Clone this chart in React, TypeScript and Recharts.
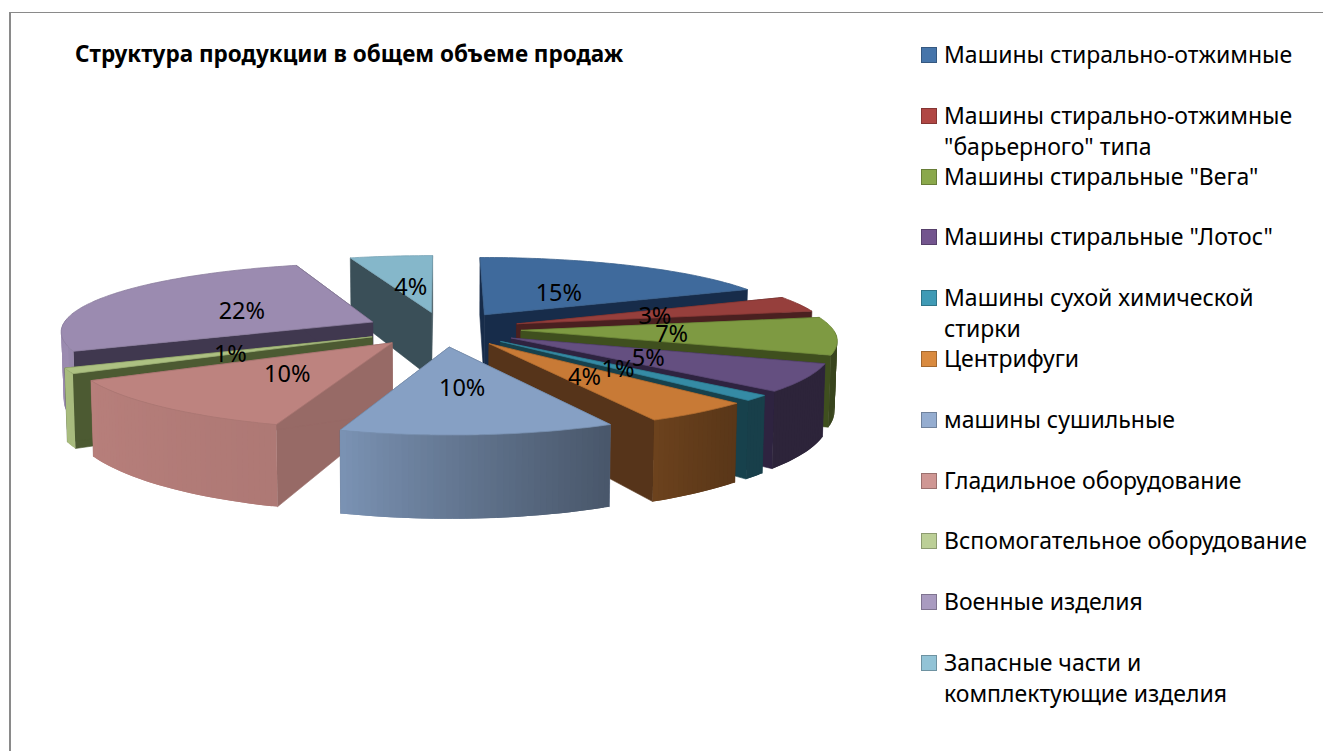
import { Legend, Pie, PieChart } from "recharts";

const names = [
  "Машины стирально-отжимные",
  'Машины стирально-отжимные\n"барьерного" типа',
  'Машины стиральные "Вега"',
  'Машины стиральные "Лотос"',
  "Машины сухой химической\nстирки",
  "Центрифуги",
  "машины сушильные",
  "Гладильное оборудование",
  "Вспомогательное оборудование",
  "Военные изделия",
  "Запасные части и\nкомплектующие изделия",
];
const values = [15, 3, 7, 5, 1, 4, 10, 10, 1, 22, 4];
const topColors = ["#3f6a9c", "#963f3c", "#7e9a42", "#644f80", "#358ba5", "#c87a36", "#86a0c4", "#bd837f", "#adc182", "#9b8bb0", "#85b7ca"];
const wallColors = ["#172c4a", "#4a2020", "#3f4f1e", "#2e2340", "#17414c", "#56341a", "#5b6c87", "#976a66", "#4c5a32", "#40384f", "#3a4f58"];
const legendColors = ["#4675aa", "#b04744", "#8aa84b", "#73558e", "#3f9ab5", "#d98a3f", "#95add0", "#cf9794", "#bccf97", "#a99bc0", "#92c3d6"];
// back to front, so nearer slices cover farther ones
const paintOrder = [10, 9, 0, 1, 8, 2, 3, 7, 4, 5, 6];

const data = names.map((name, i) => ({ name, value: values[i], fill: topColors[i], index: i }));

const FONT = '"Noto Sans", sans-serif';
const FLATTEN = 0.2228;
const PERSPECTIVE_X = 0.12;
const PERSPECTIVE_Y = 0.145;
const EXPLODE = 0.25;

function project(cx: number, cy: number, r: number, x: number, y: number) {
  const fx = 1 / (1 - PERSPECTIVE_X * y);
  const fy = 1 / (1 - PERSPECTIVE_Y * y);
  return [cx + r * x * fx, cy + r * FLATTEN * y * fy];
}

function drop(cx: number, p: number[]) {
  return [cx + (p[0] - cx) * 0.993, p[1] + 0.147 * (p[1] + 135)];
}

function toPath(points: number[][]) {
  return "M" + points.map((p) => `${p[0].toFixed(1)},${p[1].toFixed(1)}`).join("L") + "Z";
}

function shade(hex: string, k: number) {
  const n = parseInt(hex.slice(1), 16);
  const c = [(n >> 16) & 255, (n >> 8) & 255, n & 255].map((v) => Math.round(v * k));
  return `rgb(${c[0]},${c[1]},${c[2]})`;
}

function wallBrightness(theta: number) {
  const t = Math.min(1, Math.max(0, (theta - 136) / 62));
  const rest = Math.max(0, (theta - 198) / 72);
  return 0.45 + 0.47 * Math.pow(t, 1.3) + 0.08 * rest;
}

function makeSlice(only: number) {
  return function Slice(props: any) {
    const { cx, cy, outerRadius, startAngle, endAngle, midAngle, payload } = props;
    const idx = payload?.index;
    if (idx !== only) return <g />;
    const a0 = 90 - startAngle;
    const a1 = 90 - endAngle;
    const mid = ((90 - midAngle) * Math.PI) / 180;
    const ax = EXPLODE * Math.sin(mid);
    const ay = -EXPLODE * Math.cos(mid);
    const pt = (x: number, y: number) => project(cx, cy, outerRadius, x, y);
    const apex = pt(ax, ay);
    const arc: { theta: number; p: number[] }[] = [];
    const steps = Math.max(2, Math.ceil(a1 - a0));
    for (let s = 0; s <= steps; s++) {
      const theta = a0 + ((a1 - a0) * s) / steps;
      const rad = (theta * Math.PI) / 180;
      arc.push({ theta, p: pt(ax + Math.sin(rad), ay - Math.cos(rad)) });
    }
    const first = arc[0].p;
    const last = arc[arc.length - 1].p;
    const side = { fill: wallColors[idx], stroke: wallColors[idx], strokeWidth: 0.6 };
    const segments = [];
    for (let s = 0; s < arc.length - 1; s++) {
      const m = (arc[s].theta + arc[s + 1].theta) / 2;
      if (m < 90 || m > 272) continue;
      const next = Math.min(s + 2, arc.length - 1);
      segments.push(
        <path
          key={s}
          d={toPath([arc[s].p, arc[next].p, drop(cx, arc[next].p), drop(cx, arc[s].p)])}
          fill={shade(topColors[idx], wallBrightness(m))}
        />,
      );
    }
    return (
      <g>
        <path d={toPath([apex, first, drop(cx, first), drop(cx, apex)])} {...side} />
        <path d={toPath([apex, last, drop(cx, last), drop(cx, apex)])} {...side} />
        {segments}
        <path
          d={toPath([apex, ...arc.map((a) => a.p)])}
          fill={topColors[idx]}
          stroke={shade(topColors[idx], 0.9)}
          strokeWidth={0.8}
        />
      </g>
    );
  };
}

const emptyShape = () => <g />;

function renderLabel(props: any) {
  const { cx, cy, outerRadius, midAngle, value } = props;
  const mid = ((90 - midAngle) * Math.PI) / 180;
  const x = (EXPLODE + 0.48) * Math.sin(mid);
  const c = -Math.cos(mid);
  const y = (EXPLODE + (c > 0 ? 0.5 : 0.43)) * c;
  const p = project(cx, cy, outerRadius, x, y);
  return (
    <text x={p[0]} y={p[1]} textAnchor="middle" dominantBaseline="central" fontFamily={FONT} fontSize={23.5} fill="#000">
      {`${value}%`}
    </text>
  );
}

function LegendBox() {
  return (
    <div style={{ position: "relative", fontFamily: FONT, fontSize: 23, lineHeight: "31px", color: "#000" }}>
      {names.map((name, i) => (
        <div key={name} style={{ position: "absolute", left: 0, top: i * 60.8, whiteSpace: "pre", paddingLeft: 23 }}>
          <span
            style={{
              position: "absolute",
              left: 0,
              top: 8,
              width: 14,
              height: 14,
              background: legendColors[i],
              border: `1px solid ${shade(legendColors[i], 0.75)}`,
            }}
          />
          {name}
        </div>
      ))}
    </div>
  );
}

export default function App() {
  return (
    <div style={{ position: "absolute", left: 0, top: 0, width: 1323, height: 751, background: "#fff", overflow: "hidden" }}>
      <div style={{ position: "absolute", left: 9, top: 12, width: 1314, height: 739, borderLeft: "2px solid #8a8a8a", borderTop: "1px solid #8a8a8a" }} />
      <div style={{ position: "absolute", left: 75, top: 39, fontFamily: FONT, fontWeight: 700, fontSize: 22.5, lineHeight: "30px", color: "#000", whiteSpace: "nowrap" }}>
        Структура продукции в общем объеме продаж
      </div>
      <PieChart width={1323} height={751} style={{ position: "absolute", left: 0, top: 0 }}>
        {paintOrder.map((idx) => (
          <Pie
            key={idx}
            data={data}
            dataKey="value"
            nameKey="name"
            cx={438}
            cy={324}
            outerRadius={312}
            startAngle={90}
            endAngle={-270}
            legendType="none"
            isAnimationActive={false}
            shape={makeSlice(idx)}
          />
        ))}
        <Pie
          data={data}
          dataKey="value"
          nameKey="name"
          cx={438}
          cy={324}
          outerRadius={312}
          startAngle={90}
          endAngle={-270}
          legendType="none"
          isAnimationActive={false}
          shape={emptyShape}
          label={renderLabel}
          labelLine={false}
        />
        <Legend
          content={<LegendBox />}
          wrapperStyle={{ position: "absolute", left: 921, top: 39, width: 400, height: 680, bottom: "auto", right: "auto" }}
        />
      </PieChart>
    </div>
  );
}
